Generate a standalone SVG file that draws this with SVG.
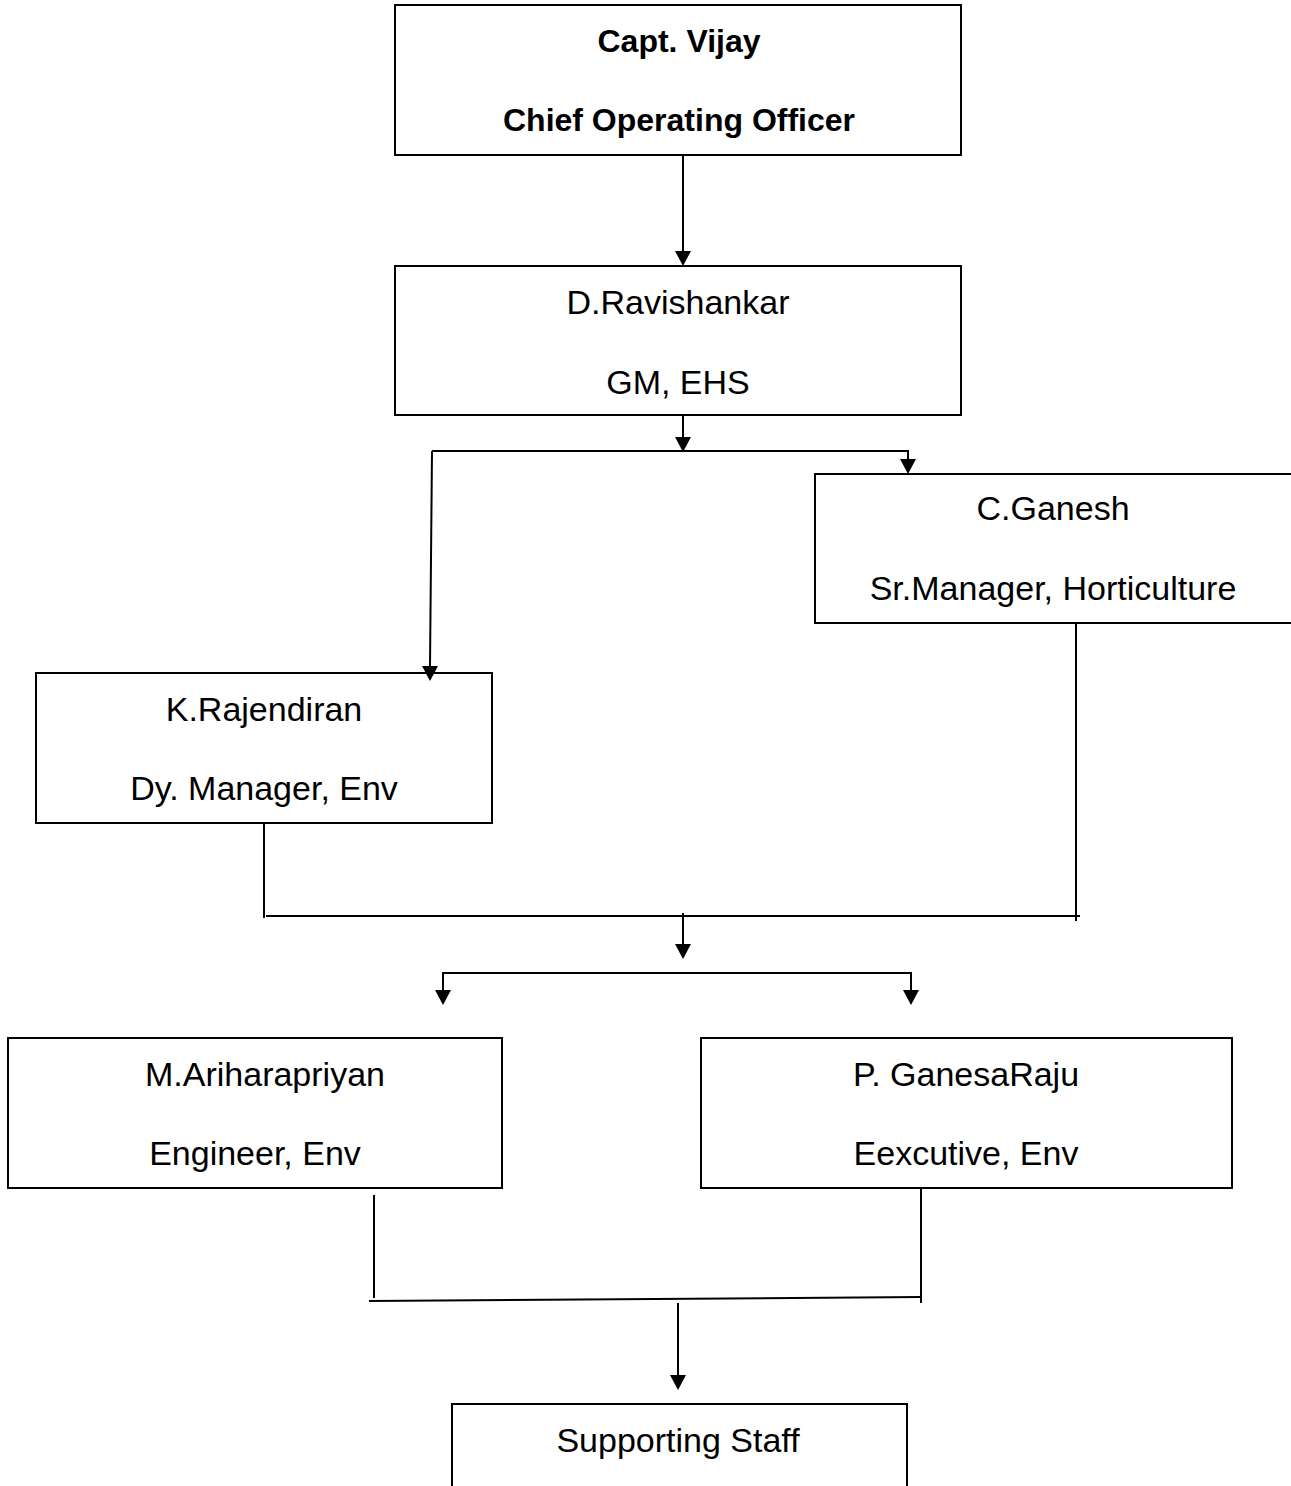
<svg xmlns="http://www.w3.org/2000/svg" width="1291" height="1486" viewBox="0 0 1291 1486">
<style>
.box{fill:#fff;stroke:#000;stroke-width:2}
.t{font-family:"Liberation Sans",Arial,sans-serif;font-size:34px;fill:#000;text-anchor:middle}
.b{font-weight:bold;font-size:32px}
.c{fill:none;stroke:#000;stroke-width:2}
</style>
<defs>
<path id="head" d="M-8,-15 L8,-15 L0,0 Z" fill="#000"/>
</defs>
<rect width="1291" height="1486" fill="#fff"/>
<g id="n1">
<rect class="box" x="395" y="5" width="566" height="150"/>
<text class="t b" x="679" y="52">Capt. Vijay</text>
<text class="t b" x="679" y="131">Chief Operating Officer</text>
</g>
<g id="n2">
<rect class="box" x="395" y="266" width="566" height="149"/>
<text class="t" x="678" y="314">D.Ravishankar</text>
<text class="t" x="678" y="394">GM, EHS</text>
</g>
<g id="n3">
<rect class="box" x="815" y="474" width="480" height="149"/>
<text class="t" x="1053" y="520">C.Ganesh</text>
<text class="t" x="1053" y="600">Sr.Manager, Horticulture</text>
</g>
<g id="n4">
<rect class="box" x="36" y="673" width="456" height="150"/>
<text class="t" x="264" y="721">K.Rajendiran</text>
<text class="t" x="264" y="800">Dy. Manager, Env</text>
</g>
<g id="n5">
<rect class="box" x="8" y="1038" width="494" height="150"/>
<text class="t" x="265" y="1086">M.Ariharapriyan</text>
<text class="t" x="255" y="1165">Engineer, Env</text>
</g>
<g id="n6">
<rect class="box" x="701" y="1038" width="531" height="150"/>
<text class="t" x="966" y="1086">P. GanesaRaju</text>
<text class="t" x="966" y="1165">Eexcutive, Env</text>
</g>
<g id="n7">
<rect class="box" x="452" y="1404" width="455" height="90"/>
<text class="t" x="678" y="1452">Supporting Staff</text>
</g>
<g id="connectors">
<path class="c" d="M683,155 V252"/>
<use href="#head" x="683" y="266"/>
<path class="c" d="M683,415 V438"/>
<use href="#head" x="683" y="452"/>
<path class="c" d="M432,451 H908 V460"/>
<use href="#head" x="908" y="474"/>
<path class="c" d="M432,451 L430,666"/>
<use href="#head" x="430" y="681"/>
<path class="c" d="M264,823 V918"/>
<path class="c" d="M1076,623 V921"/>
<path class="c" d="M266,916 H1080"/>
<path class="c" d="M683,913 V944"/>
<use href="#head" x="683" y="959"/>
<path class="c" d="M443,991 V973 H911 V991"/>
<use href="#head" x="443" y="1005"/>
<use href="#head" x="911" y="1005"/>
<path class="c" d="M374,1195 V1298"/>
<path class="c" d="M921,1188 V1303"/>
<path class="c" d="M369,1301 L921,1297"/>
<path class="c" d="M678,1303 V1376"/>
<use href="#head" x="678" y="1390"/>
</g>
</svg>
